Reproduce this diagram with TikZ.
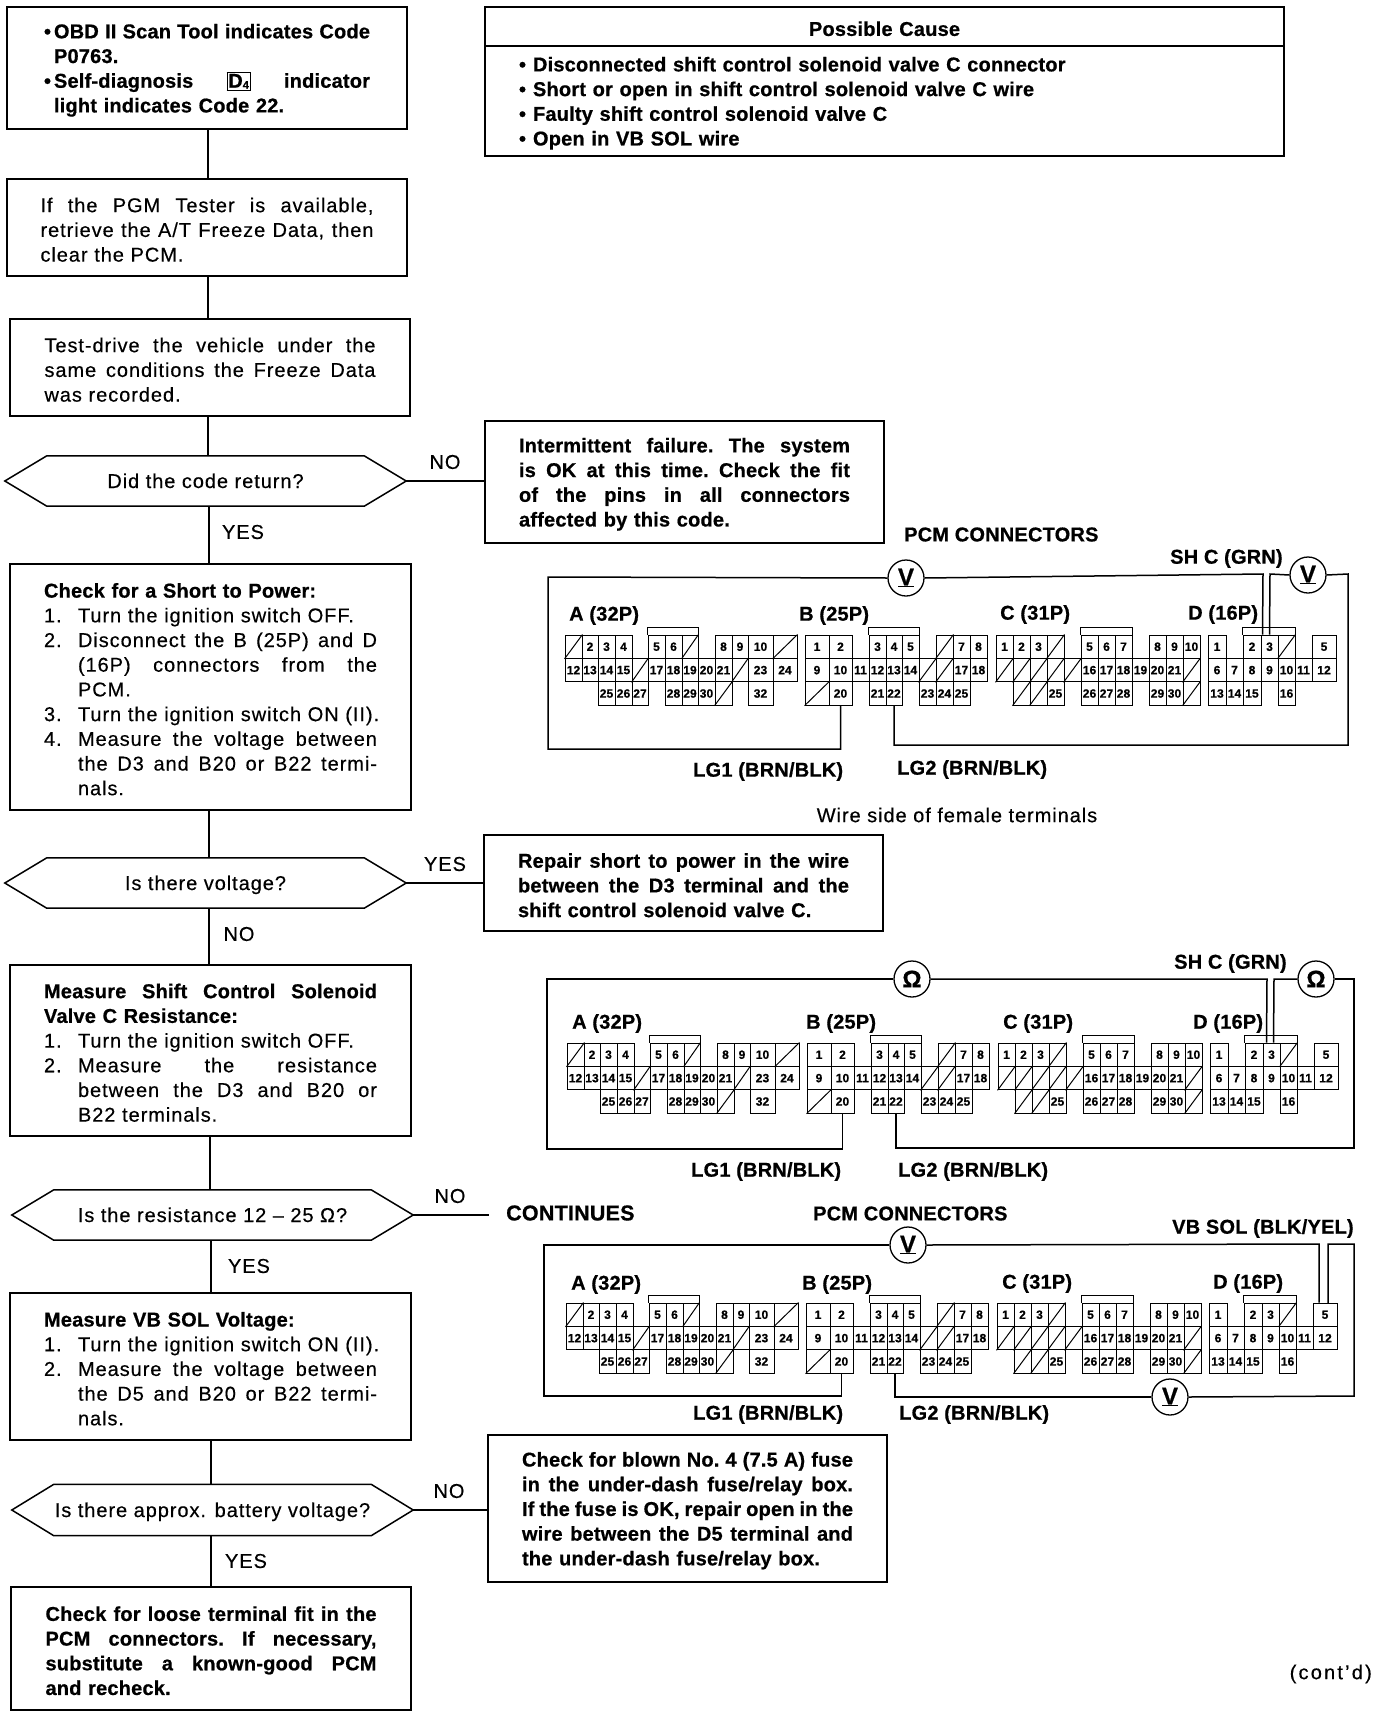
\documentclass[tikz,border=0pt]{standalone}
\usepackage{fontspec}
\setmainfont{Liberation Sans}[LetterSpace=4.7,FakeBold=0.4,BoldFeatures={LetterSpace=1,FakeBold=0.7}]
\usetikzlibrary{calc}
\newlength{\hangw}\setlength{\hangw}{34pt}
\newlength{\bulw}\setlength{\bulw}{10pt}
\newcommand\stretchsp{\spaceskip=0.3em plus 1fil minus 0.12em\xspaceskip=\spaceskip\relax}
\newcommand\Jf[1]{\leavevmode\hbox to \hsize{\stretchsp #1}}
\newcommand\Jn[2]{\leavevmode\hbox to \hsize{\hbox to \hangw{#1\hss}\stretchsp #2}}
\newcommand\Ln[2]{\leavevmode\hbox{\hbox to \hangw{#1\hss}#2}}
\newcommand\Bj[2]{\leavevmode\hbox to \hsize{\hbox to \bulw{#1\hss}\stretchsp #2}}
\newcommand\Bl[2]{\leavevmode\hbox{\hbox to \bulw{#1\hss}#2}}
\newcommand\numcells[4]{\foreach \xa/\xb/\lb in {#4}{%
  \pgfmathsetmacro\cw{\xb-\xa}\pgfmathsetmacro\cx{(\xa+\xb)/2}\pgfmathsetmacro\cy{635+23.4*(#3+0.5)}%
  \node[cellbox,minimum width=\cw pt] (#1-#2-\lb) at (\cx,\cy) {\lb};}}
\newcommand\slashcells[4]{\foreach \xa/\xb in {#4}{%
  \pgfmathsetmacro\cw{\xb-\xa}\pgfmathsetmacro\cx{(\xa+\xb)/2}\pgfmathsetmacro\cy{635+23.4*(#3+0.5)}%
  \node[cellbox,minimum width=\cw pt] (#1-#2-x\xa r#3) at (\cx,\cy) {};
  \draw[cellline] (#1-#2-x\xa r#3.south west) -- (#1-#2-x\xa r#3.north east);}}
\newcommand\panelgrid[3]{\begin{scope}[shift={(#2,#3)}]
 \numcells{#1}{A}{0}{582/598/2,598/615/3,615/632/4,648/665/5,665/682/6,715/732/8,732/748/9,748/773/10}
 \slashcells{#1}{A}{0}{565/582,682/698,773/797}
 \numcells{#1}{A}{1}{565/582/12,582/598/13,598/615/14,615/632/15,648/665/17,665/682/18,682/698/19,698/715/20,715/732/21,748/773/23,773/797/24}
 \slashcells{#1}{A}{1}{632/648,732/748}
 \numcells{#1}{A}{2}{598/615/25,615/632/26,632/648/27,665/682/28,682/698/29,698/715/30,748/773/32}
 \slashcells{#1}{A}{2}{715/732}
 \numcells{#1}{B}{0}{805/829/1,829/852/2,869/886/3,886/902/4,902/919/5,953/970/7,970/987/8}
 \slashcells{#1}{B}{0}{936/953}
 \numcells{#1}{B}{1}{805/829/9,829/852/10,852/869/11,869/886/12,886/902/13,902/919/14,953/970/17,970/987/18}
 \slashcells{#1}{B}{1}{919/936,936/953}
 \numcells{#1}{B}{2}{829/852/20,869/886/21,886/902/22,919/936/23,936/953/24,953/970/25}
 \slashcells{#1}{B}{2}{805/829}
 \numcells{#1}{C}{0}{996/1013/1,1013/1030/2,1030/1047/3,1081/1098/5,1098/1115/6,1115/1132/7,1149/1166/8,1166/1183/9,1183/1200/10}
 \slashcells{#1}{C}{0}{1047/1064}
 \numcells{#1}{C}{1}{1081/1098/16,1098/1115/17,1115/1132/18,1132/1149/19,1149/1166/20,1166/1183/21}
 \slashcells{#1}{C}{1}{996/1013,1013/1030,1030/1047,1047/1064,1064/1081,1183/1200}
 \numcells{#1}{C}{2}{1047/1064/25,1081/1098/26,1098/1115/27,1115/1132/28,1149/1166/29,1166/1183/30}
 \slashcells{#1}{C}{2}{1013/1030,1030/1047,1183/1200}
 \numcells{#1}{D}{0}{1208/1226/1,1243/1261/2,1261/1278/3,1312/1336/5}
 \slashcells{#1}{D}{0}{1278/1295}
 \numcells{#1}{D}{1}{1208/1226/6,1226/1243/7,1243/1261/8,1261/1278/9,1278/1295/10,1295/1312/11,1312/1336/12}
 \numcells{#1}{D}{2}{1208/1226/13,1226/1243/14,1243/1261/15,1278/1295/16}
 \draw[cellline] (#1-A-5.north west) -- ++(0,-7) -| (#1-A-x682r0.north east);
 \draw[cellline] (#1-B-3.north west) -- ++(0,-7) -| (#1-B-5.north east);
 \draw[cellline] (#1-C-5.north west) -- ++(0,-7) -| (#1-C-7.north east);
 \draw[cellline] (#1-D-2.north west) -- ++(0,-7) -| (#1-D-x1278r0.north east);
\end{scope}}
\newcommand\hexn[6]{% name x0 x1 cy h text
  \node[hexbox,minimum width={(#3-#2)*1pt},minimum height=#5 pt] (#1) at ({(#2+#3)/2},#4) {#6};
  \draw[wire,line join=miter] (#1.west) -- ($(#1.north west)+(42,0)$) -- ($(#1.north east)+(-42,0)$) -- (#1.east) -- ($(#1.south east)+(-42,0)$) -- ($(#1.south west)+(42,0)$) -- cycle;}
\tikzset{
  wire/.style={line width=1.5pt},
  cellline/.style={line width=1pt},
  cellbox/.style={draw,line width=1pt,minimum height=23.4pt,inner sep=0pt,font=\fontsize{12}{12}\selectfont\bfseries},
  hexbox/.style={inner sep=0pt,text height=16.5pt,text depth=2.5pt,font=\fontsize{20}{24}\selectfont},
  flowbox/.style={draw,line width=1.6pt,inner xsep=0pt,inner ysep=0pt,align=left,font=\fontsize{20}{24.7}\selectfont,execute at begin node={\rule{0pt}{19pt}}},
  boldbox/.style={flowbox,font=\fontsize{20}{24.7}\selectfont\bfseries},
  meter/.style={draw,circle,line width=1.3pt,minimum size=36pt,inner sep=0pt,font=\fontsize{24}{24}\selectfont\bfseries},
  lab/.style={inner sep=0pt,anchor=west,yshift=-1.5pt,font=\fontsize{20}{24}\selectfont\bfseries},
  edgelab/.style={inner sep=0pt,yshift=-1pt,font=\fontsize{20}{24}\selectfont},
}
\begin{document}
\begin{tikzpicture}[x=1pt,y=-1pt]
\useasboundingbox (0,0) rectangle (1376,1718);
% flow boxes
\node[boldbox,minimum width=400pt,minimum height=122pt,text width=326pt] (b1) at (207,68) {%
\Bj{•}{OBD II Scan Tool indicates Code}\\
\Bl{}{P0763.}\\
\Bj{•}{Self-diagnosis {\setlength{\fboxsep}{1pt}\setlength{\fboxrule}{0.8pt}\fbox{D\raisebox{-1pt}{\fontsize{11}{11}\selectfont 4}}} indicator}\\
\Bl{}{light indicates Code 22.}};
\node[flowbox,minimum width=400pt,minimum height=97pt,text width=333pt] (b2) at (207,227.5) {%
\Jf{If the PGM Tester is available,}\\
\Jf{retrieve the A/T Freeze Data, then}\\
clear the PCM.};
\node[flowbox,minimum width=400pt,minimum height=97pt,text width=331pt] (b3) at (210,367.5) {%
\Jf{Test-drive the vehicle under the}\\
\Jf{same conditions the Freeze Data}\\
was recorded.};
\hexn{d1}{5}{406}{481}{50}{Did the code return?}
\node[boldbox,minimum width=399pt,minimum height=122pt,text width=331pt] (bi) at (684.5,482) {%
\Jf{Intermittent failure. The system}\\
\Jf{is OK at this time. Check the fit}\\
\Jf{of the pins in all connectors}\\
affected by this code.};
\node[flowbox,minimum width=401pt,minimum height=246pt,text width=333pt] (b4) at (210.5,687) {%
\textbf{Check for a Short to Power:}\\
\Ln{1.}{Turn the ignition switch OFF.}\\
\Jn{2.}{Disconnect the B (25P) and D}\\
\Jn{}{(16P) connectors from the}\\
\Ln{}{PCM.}\\
\Ln{3.}{Turn the ignition switch ON (II).}\\
\Jn{4.}{Measure the voltage between}\\
\Jn{}{the D3 and B20 or B22 termi-}\\
\Ln{}{nals.}};
\hexn{d2}{5}{406}{883}{50}{Is there voltage?}
\node[boldbox,minimum width=399pt,minimum height=96pt,text width=331pt] (br) at (683.5,883) {%
\Jf{Repair short to power in the wire}\\
\Jf{between the D3 terminal and the}\\
shift control solenoid valve C.};
\node[flowbox,minimum width=401pt,minimum height=171pt,text width=333pt] (b5) at (210.5,1050.5) {%
\textbf{\Jf{Measure Shift Control Solenoid}}\\
\textbf{Valve C Resistance:}\\
\Ln{1.}{Turn the ignition switch OFF.}\\
\Jn{2.}{Measure the resistance}\\
\Jn{}{between the D3 and B20 or}\\
\Ln{}{B22 terminals.}};
\hexn{d3}{12}{413}{1215}{50}{Is the resistance 12 – 25 Ω?}
\node[inner xsep=17pt,inner ysep=0pt,anchor=west,font=\fontsize{21.5}{24}\selectfont\bfseries] (cont) at (489,1213) {CONTINUES};
\node[flowbox,minimum width=401pt,minimum height=147pt,text width=333pt] (b6) at (210.5,1366.5) {%
\textbf{Measure VB SOL Voltage:}\\
\Ln{1.}{Turn the ignition switch ON (II).}\\
\Jn{2.}{Measure the voltage between}\\
\Jn{}{the D5 and B20 or B22 termi-}\\
\Ln{}{nals.}};
\hexn{d4}{12}{413}{1510}{51}{Is there approx. battery voltage?}
\node[boldbox,minimum width=399pt,minimum height=147pt,text width=331pt] (bf) at (687.5,1508.5) {%
\Jf{Check for blown No. 4 (7.5 A) fuse}\\
\Jf{in the under-dash fuse/relay box.}\\
\Jf{If the fuse is OK, repair open in the}\\
\Jf{wire between the D5 terminal and}\\
the under-dash fuse/relay box.};
\node[boldbox,minimum width=400pt,minimum height=123pt,text width=331pt] (b7) at (211,1648.5) {%
\Jf{Check for loose terminal fit in the}\\
\Jf{PCM connectors. If necessary,}\\
\Jf{substitute a known-good PCM}\\
and recheck.};
% possible cause
\node[boldbox,minimum width=799pt,minimum height=39pt,text width=731pt,align=center] (pch) at (884.5,26.5) {Possible Cause};
\node[boldbox,minimum width=799pt,minimum height=110pt,text width=731pt] (pcb) at (884.5,101) {%
\makebox[14pt][l]{•}Disconnected shift control solenoid valve C connector\\
\makebox[14pt][l]{•}Short or open in shift control solenoid valve C wire\\
\makebox[14pt][l]{•}Faulty shift control solenoid valve C\\
\makebox[14pt][l]{•}Open in VB SOL wire};
% flow connectors
\draw[wire] (b1.south -| 208,0) -- (b2.north -| 208,0);
\draw[wire] (b2.south -| 208,0) -- (b3.north -| 208,0);
\draw[wire] (b3.south -| 208,0) -- (d1.north -| 208,0);
\draw[wire] (d1.south -| 209,0) -- (b4.north -| 209,0);
\draw[wire] (b4.south -| 209,0) -- (d2.north -| 209,0);
\draw[wire] (d2.south -| 209,0) -- (b5.north -| 209,0);
\draw[wire] (b5.south -| 210,0) -- (d3.north -| 210,0);
\draw[wire] (d3.south -| 211,0) -- (b6.north -| 211,0);
\draw[wire] (b6.south -| 211,0) -- (d4.north -| 211,0);
\draw[wire] (d4.south -| 211,0) -- (b7.north -| 211,0);
\draw[wire] (d1.east) -- (d1.east -| bi.west);
\draw[wire] (d2.east) -- (d2.east -| br.west);
\draw[wire] (d3.east) -- (d3.east -| cont.west);
\draw[wire] (d4.east) -- (d4.east -| bf.west);
\node[edgelab] (n1) at (445,461) {NO};
\node[edgelab] (y1) at (243,531) {YES};
\node[edgelab] (y2) at (445,863) {YES};
\node[edgelab] (n2) at (239,933) {NO};
\node[edgelab] (n3) at (450,1195) {NO};
\node[edgelab] (y3) at (249,1265) {YES};
\node[edgelab] (n4) at (449,1490) {NO};
\node[edgelab] (y4) at (246,1560) {YES};
\node[edgelab,anchor=east] (contd) at (1372,1673) {\addfontfeature{LetterSpace=11}(cont'd)};
% panel 1
\panelgrid{p1}{0}{0}
\node[lab] (p1title) at (904,533) {PCM CONNECTORS};
\node[lab] (p1shc) at (1170,557) {SH C (GRN)};
\node[lab] (p1A) at (569,614) {A (32P)};
\node[lab] (p1B) at (799,614) {B (25P)};
\node[lab] (p1C) at (1000,613) {C (31P)};
\node[lab] (p1D) at (1188,613) {D (16P)};
\node[lab] (p1lg1) at (693,770) {LG1 (BRN/BLK)};
\node[lab] (p1lg2) at (897,768) {LG2 (BRN/BLK)};
\node[edgelab,anchor=center] (p1wire) at (957,814) {Wire side of female terminals};
\node[meter] (p1v) at (906,578) {\underline{V}};
\node[meter] (p1w) at (1308,575) {\underline{V}};
\coordinate (p1a) at (548,577); \coordinate (p1b) at (548,749);
\coordinate (p1c) at (1263,574); \coordinate (p1d) at (1270,574);
\coordinate (p1e) at (1348,574); \coordinate (p1f) at (1348,745);
\draw[wire] (p1v.west) -- (p1a) -- (p1b) -- (p1b -| p1-B-20.south) -- (p1-B-20.south);
\draw[wire] (p1v.east) -- (p1c) -- ([xshift=2pt]p1-D-3.north west);
\draw[wire] ([xshift=9pt]p1-D-3.north west) -- (p1d) -- (p1w.west);
\draw[wire] (p1w.east) -- (p1e) -- (p1f) -- (p1f -| p1-B-22.south) -- (p1-B-22.south);
% panel 2
\panelgrid{p2}{2}{408}
\node[lab] (p2shc) at (1174,962) {SH C (GRN)};
\node[lab] (p2A) at (572,1022) {A (32P)};
\node[lab] (p2B) at (806,1022) {B (25P)};
\node[lab] (p2C) at (1003,1022) {C (31P)};
\node[lab] (p2D) at (1193,1022) {D (16P)};
\node[lab] (p2lg1) at (691,1170) {LG1 (BRN/BLK)};
\node[lab] (p2lg2) at (898,1170) {LG2 (BRN/BLK)};
\node[meter] (p2v) at (912,979) {Ω};
\node[meter] (p2w) at (1316,979) {Ω};
\coordinate (p2a) at (547,979); \coordinate (p2b) at (547,1149);
\coordinate (p2c) at (1267,979); \coordinate (p2d) at (1274,979);
\coordinate (p2e) at (1354,979); \coordinate (p2f) at (1354,1148);
\draw[wire] (p2v.west) -- (p2a) -- (p2b) -- (p2b -| p2-B-20.south) -- (p2-B-20.south);
\draw[wire] (p2v.east) -- (p2c) -- ([xshift=4pt]p2-D-3.north west);
\draw[wire] ([xshift=11pt]p2-D-3.north west) -- (p2d) -- (p2w.west);
\draw[wire] (p2w.east) -- (p2e) -- (p2f) -- (p2f -| p2-B-22.south) -- (p2-B-22.south);
% panel 3
\panelgrid{p3}{1}{668}
\node[lab] (p3title) at (813,1212) {PCM CONNECTORS};
\node[lab] (p3vb) at (1172,1227) {VB SOL (BLK/YEL)};
\node[lab] (p3A) at (571,1283) {A (32P)};
\node[lab] (p3B) at (802,1283) {B (25P)};
\node[lab] (p3C) at (1002,1282) {C (31P)};
\node[lab] (p3D) at (1213,1282) {D (16P)};
\node[lab] (p3lg1) at (693,1413) {LG1 (BRN/BLK)};
\node[lab] (p3lg2) at (899,1413) {LG2 (BRN/BLK)};
\node[meter] (p3v) at (908,1245) {\underline{V}};
\node[meter] (p3w) at (1170,1397) {\underline{V}};
\coordinate (p3a) at (544,1245); \coordinate (p3b) at (544,1396);
\coordinate (p3c) at (1319,1244); \coordinate (p3d) at (1328,1244);
\coordinate (p3e) at (1354,1244); \coordinate (p3f) at (1354,1396);
\coordinate (p3g) at (1328,1303);
\draw[wire] (p3v.west) -- (p3a) -- (p3b) -- (p3b -| p3-B-20.south) -- (p3-B-20.south);
\draw[wire] (p3v.east) -- (p3c) -- (p3c |- p3-D-5.north);
\draw[wire] (p3g) -- (p3d) -- (p3e) -- (p3f) -- (p3w.east);
\draw[wire] (p3w.west) -- (p3w.west -| p3-B-22.south) -- (p3-B-22.south);
\end{tikzpicture}
\end{document}
